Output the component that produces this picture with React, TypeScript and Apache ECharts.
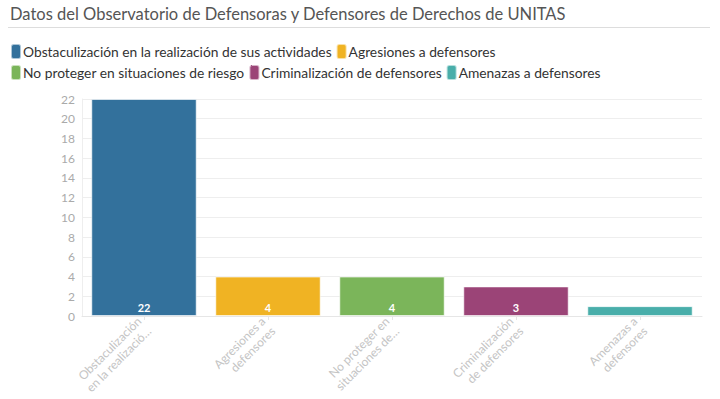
import React, { useEffect, useRef } from "react";
import * as echarts from "echarts";

const categories = [
  "Obstaculización en la realización de sus actividades",
  "Agresiones a defensores",
  "No proteger en situaciones de riesgo",
  "Criminalización de defensores",
  "Amenazas a defensores",
];
const axisLabels = [
  "Obstaculización\nen la realizació…",
  "Agresiones a\ndefensores",
  "No proteger en\nsituaciones de…",
  "Criminalización\nde defensores",
  "Amenazas a\ndefensores",
];
const values = [22, 4, 4, 3, 1];
const colors = ["#33719c", "#f0b323", "#7bb55a", "#9b4477", "#49aeaa"];
const yTicks = { min: 0, max: 22, interval: 2 };

export default function App() {
  const ref = useRef<HTMLDivElement>(null);
  useEffect(() => {
    if (!ref.current) return;
    const chart = echarts.init(ref.current, undefined, { renderer: "svg" });
    const font = "Lato, 'Noto Sans', sans-serif";
    const series = categories.map((name, i) => ({
      name,
      type: "bar",
      stack: "total",
      barWidth: "85%",
      data: values.map((v, j) => (j === i ? v : "-")),
      itemStyle: { color: colors[i], borderColor: "rgba(255,255,255,0.6)", borderWidth: 1 },
      label: {
        show: values[i] > 1,
        position: "insideBottom",
        color: "#fff",
        fontWeight: "bold",
        fontSize: 11,
        fontFamily: font,
        distance: 3,
      },
    }));
    chart.setOption({
      animation: false,
      color: colors,
      title: {
        text: "Datos del Observatorio de Defensoras y Defensores de Derechos de UNITAS",
        left: 10,
        top: 4,
        padding: 0,
        textStyle: { fontSize: 16.5, lineHeight: 20, fontWeight: "normal", color: "#555", fontFamily: font },
      },
      graphic: [
        {
          type: "line",
          shape: { x1: 8, y1: 27.5, x2: 710, y2: 27.5 },
          style: { stroke: "#ddd", lineWidth: 1 },
        },
      ],
      legend: {
        left: 10,
        top: 43,
        width: 600,
        itemWidth: 10,
        itemHeight: 15,
        itemGap: 4,
        icon: "roundRect",
        padding: [0, 0, 0, 0],
        textStyle: { fontSize: 13.8, color: "#333", fontFamily: font, padding: [0, 0, 0, -3] },
        data: categories,
      },
      grid: { left: 82, right: 18, top: 99, bottom: 83, containLabel: false },
      xAxis: {
        type: "category",
        data: axisLabels,
        axisLine: { lineStyle: { color: "#e6e6e6" } },
        axisTick: { show: true, alignWithLabel: true, length: 4, lineStyle: { color: "#e6e6e6" } },
        axisLabel: {
          rotate: 45,
          color: "#c4c4c4",
          fontSize: 12,
          fontFamily: font,
          lineHeight: 14,
          interval: 0,
          margin: 8,
        },
      },
      yAxis: {
        type: "value",
        min: yTicks.min,
        max: yTicks.max,
        interval: yTicks.interval,
        axisLine: { show: true, lineStyle: { color: "#eee" } },
        axisTick: { show: false },
        splitLine: { lineStyle: { color: "#eee" } },
        axisLabel: { color: "#aaa", fontSize: 12, fontFamily: font, margin: 7 },
      },
      series,
    });
    return () => chart.dispose();
  }, []);
  return <div ref={ref} style={{ position: "absolute", left: 0, top: 0, width: 720, height: 399 }} />;
}
